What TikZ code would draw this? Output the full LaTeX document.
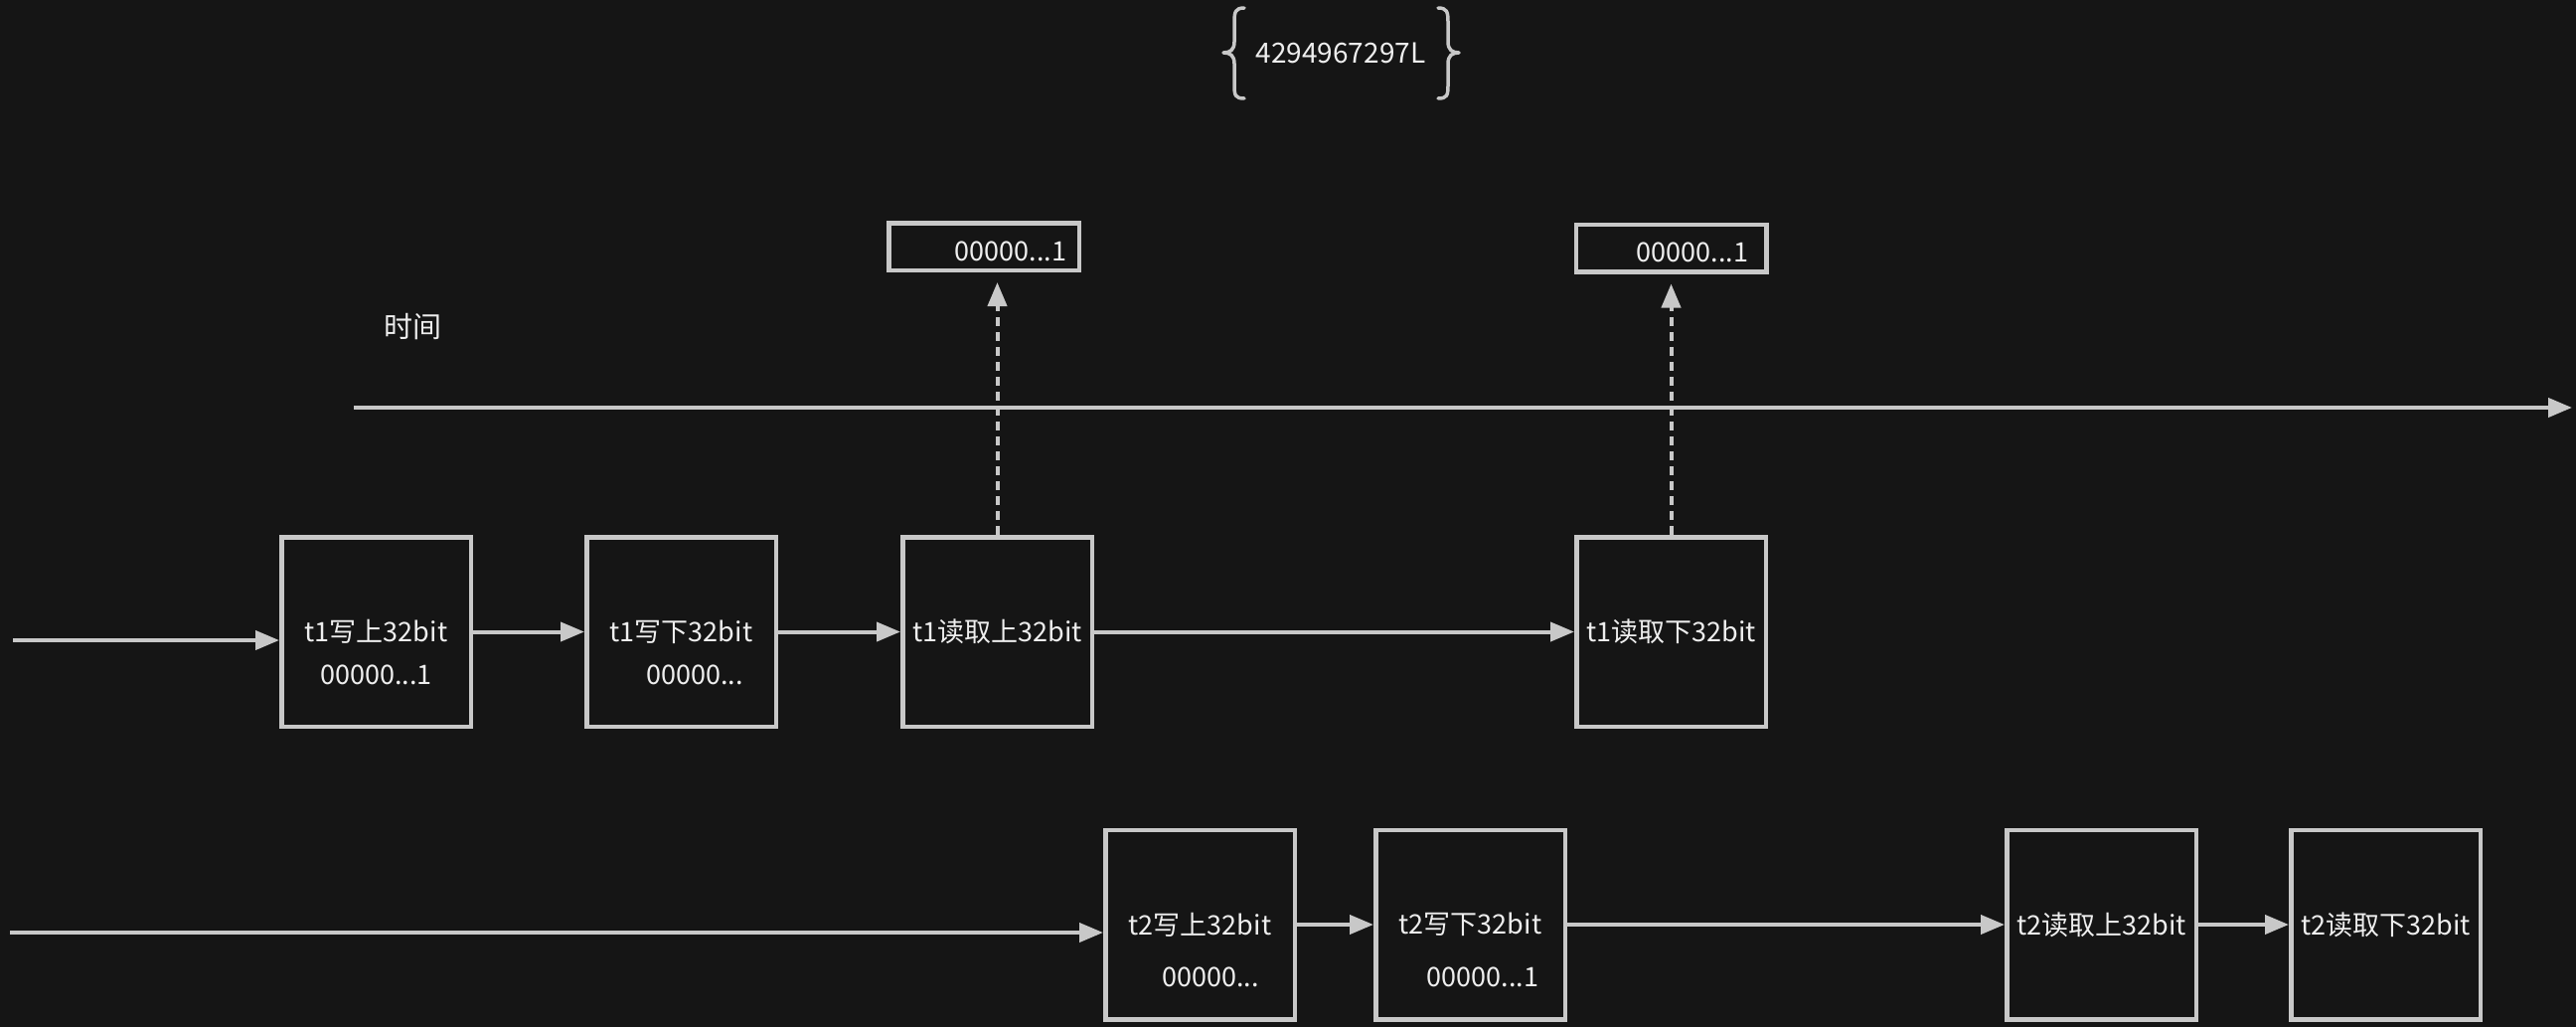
\documentclass[tikz,border=0pt]{standalone}
\usepackage{fontspec}
\setmainfont{Noto Sans CJK SC}
\usetikzlibrary{arrows.meta,calc}
\definecolor{bg}{RGB}{21,21,21}
\definecolor{ln}{RGB}{200,200,200}
\definecolor{tx}{RGB}{238,238,238}
\begin{document}
\begin{tikzpicture}[x=1pt,y=-1pt,
  box/.style={draw=ln, line width=4.5pt, minimum width=190.5pt, minimum height=190.5pt, inner sep=0pt, text=tx, font=\fontsize{27}{30}\selectfont},
  val/.style={text=tx, font=\fontsize{27}{30}\selectfont, inner sep=0pt},
  conn/.style={draw=ln, line width=4pt, -{Triangle[length=24pt,width=19pt]}},
  dconn/.style={conn, dash pattern=on 9pt off 6pt},
  brace/.style={draw=ln, line width=3.5pt, line cap=round, line join=round}]
\fill[bg] (0,0) rectangle (2592,1033);
\useasboundingbox (0,0) rectangle (2592,1033);

% braces and number
\node[val, font=\fontsize{28}{30}\selectfont] (num) at (1349,53) {4294967297L};
\draw[brace] (1252,8) .. controls (1243,8) and (1242,12) .. (1242,22) -- (1242,42) .. controls (1242,50) and (1238,53) .. (1231,53) .. controls (1238,53) and (1242,56) .. (1242,64) -- (1242,86) .. controls (1242,96) and (1243,99) .. (1252,99);
\draw[brace] (1447,8) .. controls (1456,8) and (1457,12) .. (1457,22) -- (1457,42) .. controls (1457,50) and (1461,53) .. (1468,53) .. controls (1461,53) and (1457,56) .. (1457,64) -- (1457,86) .. controls (1457,96) and (1456,99) .. (1447,99);

% top value boxes
\node[box, minimum width=191.5pt, minimum height=47.5pt] (tA) at (990,248) {};
\node[val] (tAv) at (1017,253) {00000...1};
\node[box, minimum width=191.5pt, minimum height=47.5pt] (tB) at (1681.5,249.5) {};
\node[val] (tBv) at (1703,254) {00000...1};

% time axis
\node[val, font=\fontsize{29}{32}\selectfont] (time) at (415,329) {时间};
\coordinate (ta) at (356,410);
\coordinate (tb) at (2588,410);
\draw[conn] (ta) -- (tb);

% row 1
\node[box] (b1) at (378.5,635.5) {t1写上32bit};
\node[val] (v1) at (378.5,679) {00000...1};
\node[box] (b2) at (685.5,635.5) {t1写下32bit};
\node[val] (v2) at (699,679) {00000...};
\node[box] (b3) at (1003.5,635.5) {t1读取上32bit};
\node[box] (b4) at (1681.5,635.5) {t1读取下32bit};

% row 2
\node[box] (b5) at (1207.5,930) {t2写上32bit};
\node[val] (v5) at (1218,983) {00000...};
\node[box] (b6) at (1479.5,930) {t2写下32bit};
\node[val] (v6) at (1492,983) {00000...1};
\node[box] (b7) at (2114.5,930) {t2读取上32bit};
\node[box] (b8) at (2400.5,930) {t2读取下32bit};

% connectors
\coordinate (s1) at (13,644);
\coordinate (s2) at (10,938);
\draw[conn] (s1) -- (b1.west |- s1);
\draw[conn] (b1) -- (b2);
\draw[conn] (b2) -- (b3);
\draw[conn] (b3) -- (b4);
\draw[conn] (s2) -- (b5.west |- s2);
\draw[conn] (b5) -- (b6);
\draw[conn] (b6) -- (b7);
\draw[conn] (b7) -- (b8);
\draw[dconn, shorten >=10pt] (b3.north) -- (b3.north |- tA.south);
\draw[dconn, shorten >=10pt] (b4.north) -- (b4.north |- tB.south);
\end{tikzpicture}
\end{document}
